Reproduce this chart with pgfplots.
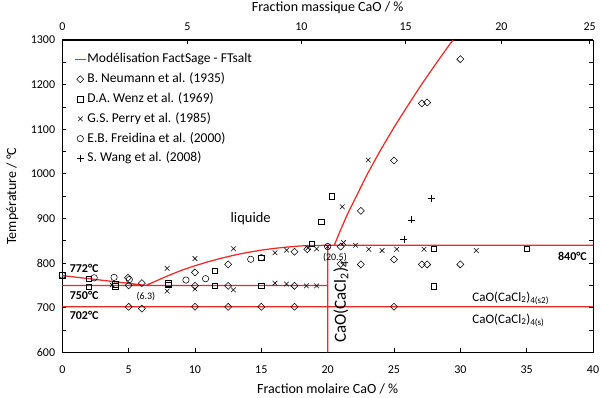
\documentclass[border=0pt]{standalone}
\usepackage{fontspec}
\setmainfont{Carlito}
\usepackage{pgfplots}
\pgfplotsset{compat=1.18}
\definecolor{modelred}{RGB}{237,42,42}

\newcommand{\fs}[1]{\fontsize{#1bp}{#1bp}\selectfont}

\pgfplotsset{
  modelline/.style={draw=modelred, color=modelred, line width=1.25bp},
  lineleg/.style={legend image code/.code={%
      \draw[##1] (0bp,0bp) -- (11bp,0bp);}},
  markleg/.style={legend image code/.code={%
      \draw[##1] plot coordinates {(5.5bp,0bp)};}},
}

\begin{document}
\begin{tikzpicture}
% ---------- main axis: molar fraction ----------
\begin{axis}[
  name=main,
  scale only axis,
  width=530.7bp, height=312.3bp,
  xmin=0, xmax=40, ymin=600, ymax=1300,
  xtick={0,5,...,40},
  ytick={600,700,...,1300},
  minor ytick={650,750,...,1250},
  xtick pos=lower, ytick pos=both,
  tick align=inside,
  major tick length=4bp, minor tick length=4bp,
  axis line style={black, line width=1pt},
  tick style={black, line width=0.8pt},
  /pgf/number format/assume math mode=true,
  /pgf/number format/set thousands separator={},
  ticklabel style={font=\fs{12}},
  xticklabel style={anchor=center, inner sep=0pt, yshift=-17.5bp},
  yticklabel style={anchor=east, inner sep=0pt, xshift=-7bp},
  xlabel={Fraction molaire CaO / \%},
  ylabel={Température / °C},
  label style={font=\fs{14}},
  xlabel style={at={(axis description cs:0.5,0)}, anchor=center, yshift=-36.5bp},
  ylabel style={at={(axis description cs:0,0.5)}, anchor=center, rotate=0, yshift=50bp},
  legend style={draw=none, fill=none, inner sep=0pt,
    at={(0.022,0.970)}, anchor=north west, font=\fs{13.5},
    nodes={inner xsep=1bp, inner ysep=3.4bp, text height=10bp, text depth=3bp}},
  legend cell align=left,
  unbounded coords=jump,
  clip=false,
]

% FactSage model (FTsalt): liquidus, then the invariant lines
\addplot[modelline, lineleg] coordinates {
  (0,772) (6.3,750) (7,759) (8,772) (9,784) (10,794) (11,803) (12,811)
  (13,818) (14,824) (15,829) (16,833) (17,836) (18,838.5) (19,839.5)
  (20.5,840) (21,876) (21.5,910) (22,940) (23,1000) (24,1054) (25,1104)
  (26,1151) (27,1197) (28,1240) (29,1282) (29.45,1300)
  (30,nan)
  (0,750) (20,750)
  (20,nan)
  (0,702) (40,702)
  (40,nan)
  (20,840) (40,840)
  (40,nan)
  (20,600) (20,840)
};
\addlegendentry{Modélisation FactSage - FTsalt}

% B. Neumann et al. (1935)
\addplot[only marks, mark=square, mark size=2.5bp,
  mark options={rotate=45, black, line width=0.55pt}, markleg] coordinates {
  (4.95,767) (5.0,750) (6.0,755) (5.0,702) (6.0,698)
  (10,779) (10,749) (10,702) (12.5,797) (12.5,749) (12.5,702)
  (15,702) (17.5,825.5) (17.5,749) (17.5,702) (18.46,831)
  (20.98,837) (20.98,798) (22.5,917) (22.5,797)
  (25,1030) (25,808) (25,702) (27.1,1158) (27.5,1160)
  (27.1,797) (27.5,797) (30,1257) (30,797)
};
\addlegendentry{B. Neumann et al. (1935)}

% D.A. Wenz et al. (1969)
\addplot[only marks, mark=square, mark size=2.8bp,
  mark options={black, line width=0.55pt}, markleg] coordinates {
  (0,773) (2,765) (2,747) (4,753) (4,748) (8,751) (8,755)
  (11.5,783) (11.5,749) (15,812) (15,749) (18.8,843) (19.5,893)
  (20.3,950) (28,832) (28,748) (35,832)
};
\addlegendentry{D.A. Wenz et al. (1969)}

% G.S. Perry et al. (1985)
\addplot[only marks, mark=x, mark size=3.3bp,
  mark options={black, line width=0.55pt}, markleg] coordinates {
  (3.75,751) (7.9,788) (7.9,737) (10,810) (10,742) (12.9,832) (12.9,740)
  (16.03,823) (16.03,755) (16.9,829) (16.9,753) (18.4,749) (19.17,749)
  (18.5,834) (19.17,832) (20,837) (21.1,926) (21.2,846) (22.1,840)
  (23.06,1031) (23.1,831) (24.1,828) (25.2,831) (27.26,831) (31.2,828)
};
\addlegendentry{G.S. Perry et al. (1985)}

% E.B. Freidina et al. (2000)
\addplot[only marks, mark=o, mark size=3.2bp,
  mark options={black, line width=0.55pt}, markleg] coordinates {
  (0,773) (2.4,767) (3.9,768) (5.05,763) (9.32,762) (10.8,765)
  (14.2,808.5) (15,812) (20,837)
};
\addlegendentry{E.B. Freidina et al. (2000)}

% S. Wang et al. (2008)
\addplot[only marks, mark=+, mark size=3.5bp,
  mark options={black, line width=0.55pt}, markleg] coordinates {
  (25.75,853) (26.3,897) (27.8,945)
};
\addlegendentry{S. Wang et al. (2008)}

% annotations
\node[anchor=west, font=\fs{12}\bfseries] at (axis cs:0.3,788) {772°C};
\node[anchor=west, font=\fs{12}\bfseries] at (axis cs:0.3,727) {750°C};
\node[anchor=west, font=\fs{12}\bfseries] at (axis cs:0.3,682) {702°C};
\node[anchor=east, font=\fs{12}\bfseries] at (axis cs:39.8,814) {840°C};
\node[font=\fs{10}] at (axis cs:6.3,725) {(6.3)};
\node[font=\fs{10}] at (axis cs:20.55,813) {(20.5)};
\node[font=\fs{14.5}] at (axis cs:14.2,900) {liquide};
\node[anchor=west, font=\fs{13}] at (axis cs:30.65,721) {CaO(CaCl\textsubscript{2})\textsubscript{4(s2)}};
\node[anchor=west, font=\fs{13}] at (axis cs:30.65,672) {CaO(CaCl\textsubscript{2})\textsubscript{4(s)}};
\node[rotate=90, font=\fs{17}] at (axis cs:21.0,713) {CaO(CaCl\textsubscript{2})\textsubscript{4}};
\end{axis}

% ---------- secondary axis: mass fraction (top) ----------
\begin{axis}[
  scale only axis,
  width=530.7bp, height=312.3bp,
  xmin=0, xmax=40, ymin=600, ymax=1300,
  axis x line*=top, axis y line=none,
  axis line style={black, line width=1pt},
  tick align=inside, major tick length=4bp,
  tick style={black, line width=0.8pt},
  xtick={0,9.433,18.026,25.885,33.100,39.748},
  xticklabels={0,5,10,15,20,25},
  /pgf/number format/assume math mode=true,
  ticklabel style={font=\fs{12}},
  xticklabel style={inner sep=0pt},
  xticklabel shift=9bp,
  xlabel={Fraction massique CaO / \%},
  label style={font=\fs{14}},
  xlabel style={at={(axis description cs:0.5,1)}, anchor=center, yshift=32bp},
]
\addplot[draw=none, forget plot] coordinates {(0,600) (40,1300)};
\end{axis}

\pgfresetboundingbox
\path ([shift={(-62.3bp,-44.7bp)}]main.south west)
  rectangle ([shift={(9bp,40bp)}]main.north east);
\end{tikzpicture}
\end{document}
